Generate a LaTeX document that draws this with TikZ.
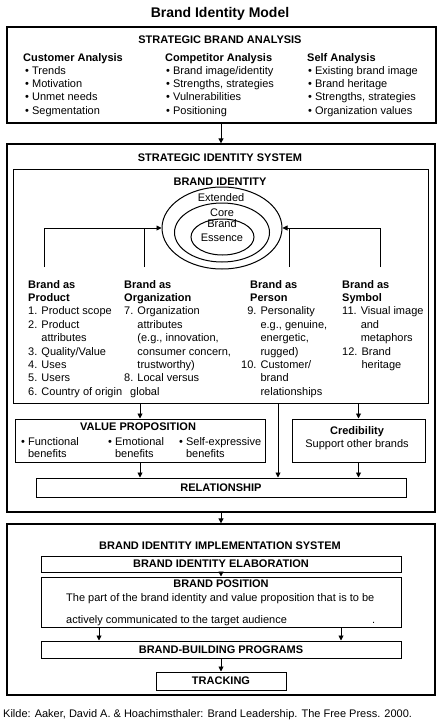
\documentclass[tikz,border=0pt]{standalone}
\usepackage{fontspec}
\setmainfont{Liberation Sans}
\usetikzlibrary{arrows.meta,shapes.geometric}
\begin{document}
\begin{tikzpicture}[x=1pt,y=-1pt,
 every node/.style={font=\fontsize{11pt}{13.3pt}\selectfont},
 txt/.style={inner sep=0pt, align=left, anchor=base west},
 ctr/.style={inner sep=0pt, anchor=base},
 big/.style={draw, line width=1.3pt, inner sep=0pt},
 box/.style={draw, line width=1pt, inner sep=0pt},
 ell/.style={draw, ellipse, line width=1pt, inner sep=0pt},
 arr/.style={-{Triangle[length=5pt,width=5pt]}, line width=0.9pt},
 ln/.style={line width=0.9pt},
 lst/.style={txt, font=\fontsize{11pt}{13.4pt}\selectfont},
 vpl/.style={txt, font=\fontsize{11pt}{12.3pt}\selectfont}]
\useasboundingbox (0,0) rectangle (440,720);

% title
\node[ctr, font=\fontsize{14pt}{16pt}\selectfont\bfseries] (title) at (220,17) {Brand Identity Model};

% strategic brand analysis (multi-line nodes: base = last line's baseline)
\node[big, minimum width=429pt, minimum height=96pt] (sba) at (221.5,75) {};
\node[ctr, font=\fontsize{11pt}{13pt}\selectfont\bfseries] (sbat) at (220,43) {STRATEGIC BRAND ANALYSIS};
\node[txt] (ca) at (23,114.2) {\textbf{Customer Analysis}\\\hspace{2pt}• Trends\\\hspace{2pt}• Motivation\\\hspace{2pt}• Unmet needs\\\hspace{2pt}• Segmentation};
\node[txt] (co) at (165,114.2) {\textbf{Competitor Analysis}\\\hspace{1pt}• Brand image/identity\\\hspace{1pt}• Strengths, strategies\\\hspace{1pt}• Vulnerabilities\\\hspace{1pt}• Positioning};
\node[txt] (sa) at (307,114.2) {\textbf{Self Analysis}\\\hspace{1pt}• Existing brand image\\\hspace{1pt}• Brand heritage\\\hspace{1pt}• Strengths, strategies\\\hspace{1pt}• Organization values};

% strategic identity system
\node[big, minimum width=428pt, minimum height=368pt] (sis) at (221,328) {};
\node[ctr, font=\fontsize{11pt}{13pt}\selectfont\bfseries] (sist) at (220,161) {STRATEGIC IDENTITY SYSTEM};
\draw[arr] (sba.south -| sis.north) -- (sis.north);

% brand identity
\node[box, minimum width=415pt, minimum height=234pt] (bi) at (220.5,286) {};
\node[ctr, font=\fontsize{11pt}{13pt}\selectfont\bfseries] (bit) at (220,185) {BRAND IDENTITY};
\node[ell, minimum width=120pt, minimum height=82pt] (oute) at (222,228) {};
\node[ell, minimum width=95pt, minimum height=59pt] (mide) at (222,232.5) {};
\node[ell, minimum width=63pt, minimum height=36pt] (inne) at (222.5,237) {};
\node[ctr] (ext) at (221,201) {Extended};
\node[ctr] (core) at (222,216) {Core};
\node[ctr] (bra) at (222,227.5) {Brand};
\node[ctr] (ess) at (222,241.5) {Essence};

\coordinate (p1) at (44,267);
\coordinate (p2) at (144,267);
\coordinate (p3) at (289.5,267);
\coordinate (p4) at (380,267);
\draw[arr] (p1) |- (oute.west);
\draw[ln] (p2) -- (p2 |- oute.west);
\draw[arr] (p4) |- (oute.east);
\draw[ln] (p3) -- (p3 |- oute.east);

\node[lst] (c1) at (28,395.2) {\textbf{Brand as}\\\textbf{Product}\\1. Product scope\\2. Product\\\hphantom{2. }attributes\\3. Quality/Value\\4. Uses\\5. Users\\6. Country of origin};
\node[lst] (c2) at (124,395.2) {\textbf{Brand as}\\\textbf{Organization}\\7. Organization\\\hphantom{7. }attributes\\\hphantom{7. }(e.g., innovation,\\\hphantom{7. }consumer concern,\\\hphantom{7. }trustworthy)\\8. Local versus\\\hspace{6pt}global};
\node[lst] (c3h) at (250,301.4) {\textbf{Brand as}\\\textbf{Person}};
\node[lst] (c3) at (241,395.2) {\hphantom{1}9. Personality\\\hphantom{10. }e.g., genuine,\\\hphantom{10. }energetic,\\\hphantom{10. }rugged)\\10. Customer/\\\hphantom{10. }brand\\\hphantom{10. }relationships};
\node[lst] (c4) at (342,368.4) {\textbf{Brand as}\\\textbf{Symbol}\\11. Visual image\\\hphantom{11. }and\\\hphantom{11. }metaphors\\12. Brand\\\hphantom{12. }heritage};

% value proposition, credibility, relationship
\node[box, minimum width=250pt, minimum height=43pt] (vp) at (140,440.5) {};
\node[ctr, font=\fontsize{11pt}{13pt}\selectfont\bfseries] (vpt) at (138,430) {VALUE PROPOSITION};
\node[vpl] (vp1) at (21,457.3) {• Functional\\\hphantom{• }benefits};
\node[vpl] (vp2) at (108,457.3) {• Emotional\\\hphantom{• }benefits};
\node[vpl] (vp3) at (179,457.3) {• Self-expressive\\\hphantom{• }benefits};
\node[box, minimum width=133pt, minimum height=43pt] (cr) at (358.5,440.5) {};
\node[ctr, font=\fontsize{11pt}{13pt}\selectfont\bfseries] (crt) at (357,434) {Credibility};
\node[ctr] (crs) at (357,447) {Support other brands};
\node[box, minimum width=370pt, minimum height=19pt, font=\fontsize{11pt}{13pt}\selectfont\bfseries] (rel) at (221,487.5) {RELATIONSHIP};

\coordinate (mid) at (278,0);
\draw[arr] (bi.south -| vp.north) -- (vp.north);
\draw[arr] (bi.south -| cr.north) -- (cr.north);
\draw[arr] (bi.south -| mid) -- (rel.north -| mid);
\draw[arr] (vp.south) -- (rel.north -| vp.south);
\draw[arr] (cr.south) -- (rel.north -| cr.south);

% implementation system
\node[big, minimum width=428pt, minimum height=171pt] (bis) at (221,609.5) {};
\draw[arr] (sis.south) -- (bis.north);
\node[ctr, font=\fontsize{11pt}{13pt}\selectfont\bfseries] (bist) at (220,549) {BRAND IDENTITY IMPLEMENTATION SYSTEM};
\node[box, minimum width=360pt, minimum height=16pt, font=\fontsize{11pt}{13pt}\selectfont\bfseries] (elab) at (221,564) {BRAND IDENTITY ELABORATION};
\node[box, minimum width=360pt, minimum height=50pt] (pos) at (221,602) {};
\node[ctr, font=\fontsize{11pt}{13pt}\selectfont\bfseries] (post) at (221,587) {BRAND POSITION};
\node[txt] (pt1) at (66,601) {The part of the brand identity and value proposition that is to be};
\node[txt] (pt2) at (66,623) {actively communicated to the target audience};
\node[txt] (pt3) at (372,623) {.};
\draw[arr] (elab.south) -- (pos.north);
\node[box, minimum width=360pt, minimum height=17pt, font=\fontsize{11pt}{13pt}\selectfont\bfseries] (bbp) at (221,649.5) {BRAND-BUILDING PROGRAMS};
\coordinate (a1) at (99,0);
\coordinate (a2) at (341,0);
\draw[arr] (pos.south -| a1) -- (bbp.north -| a1);
\draw[arr] (pos.south -| a2) -- (bbp.north -| a2);
\node[box, minimum width=130pt, minimum height=18pt, font=\fontsize{11pt}{13pt}\selectfont\bfseries] (trk) at (221,681) {TRACKING};
\draw[arr] (bbp.south) -- (trk.north);

% footer
\node[txt] (foot) at (3,717) {Kilde: Aaker, David A. \& Hoachimsthaler: Brand Leadership. The Free Press. 2000.};
\end{tikzpicture}
\end{document}
